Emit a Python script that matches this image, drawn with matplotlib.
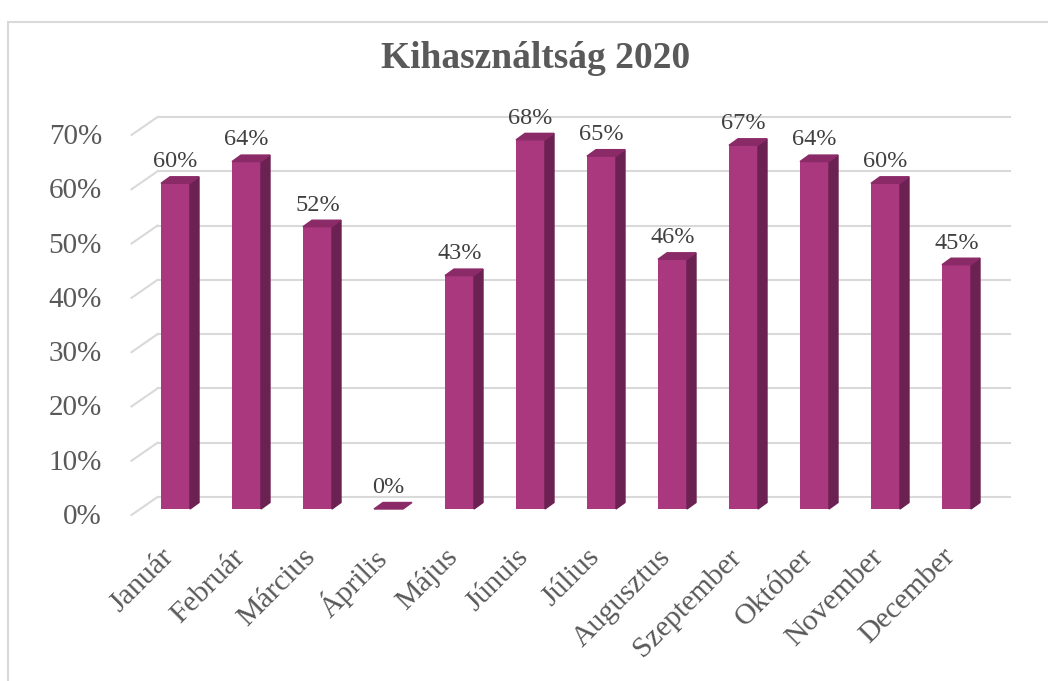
import matplotlib
matplotlib.use('Agg')
import matplotlib.pyplot as plt
from matplotlib.patches import Polygon, Rectangle
from matplotlib.transforms import ScaledTranslation

plt.rcParams['font.family'] = ['Liberation Serif', 'DejaVu Serif']

months = ['Január', 'Február', 'Március', 'Április', 'Május', 'Júnuis',
          'Július', 'Augusztus', 'Szeptember', 'Október', 'November', 'December']
usage = [0.60, 0.64, 0.52, 0.00, 0.43, 0.68, 0.65, 0.46, 0.67, 0.64, 0.60, 0.45]
yticks = [0.0, 0.1, 0.2, 0.3, 0.4, 0.5, 0.6, 0.7]

FRONT = '#A9387F'
SIDE = '#6B2152'
TOP = '#8A2A67'
GRID = '#D9D9D9'
TXT = '#595959'

W, H, DPI = 1048, 681, 100
fig = plt.figure(figsize=(W / DPI, H / DPI), dpi=DPI)
ax = fig.add_axes([140 / W, (H - 509) / H, 852 / W, 380 / H])
ax.set_xlim(0, len(months))
ax.set_ylim(0, 0.7)
ax.axis('off')

# pixel -> data unit helpers (fake 3d depth)
px_x = len(months) / 852
px_y = 0.7 / 380


def shift(dx, dy):
    return ax.transData + ScaledTranslation(dx / DPI, dy / DPI, fig.dpi_scale_trans)


# back wall gridlines + left diagonal
for v in yticks:
    ax.plot([0, len(months)], [v, v], color=GRID, lw=1.5,
            transform=shift(17.5, 12), clip_on=False, zorder=1)
    ax.plot([-8.5 * px_x, 17.5 * px_x], [v - 6 * px_y, v + 12 * px_y],
            color=GRID, lw=1.5, clip_on=False, zorder=1)
    ax.text(0, v, f'{v:.0%}', ha='right', va='center', fontsize=21, color=TXT,
            transform=shift(-38, -8), clip_on=False)

bw = 29 * px_x
ddx, ddy = 9 * px_x, 6.5 * px_y
for i, (m, v) in enumerate(zip(months, usage)):
    x0 = i + 0.5 - bw / 2
    x1 = x0 + bw
    if v > 0:
        ax.bar(i + 0.5, v, width=bw, color=FRONT, zorder=3)
        ax.add_patch(Polygon([(x1, 0), (x1 + ddx, ddy), (x1 + ddx, v + ddy), (x1, v)],
                             closed=True, color=SIDE, zorder=3, clip_on=False))
    ax.add_patch(Polygon([(x0, v), (x0 + ddx, v + ddy), (x1 + ddx, v + ddy), (x1, v)],
                         closed=True, color=TOP, zorder=3, clip_on=False))
    ax.annotate(f'{v:.0%}', (i + 0.5, v), xytext=(0, 8), textcoords='offset points',
                ha='center', va='bottom', fontsize=17.5, color='#404040', zorder=4)
    ax.text(i + 0.5, 0, m, rotation=45, rotation_mode='anchor', ha='right', va='center',
            fontsize=21.5, color=TXT, transform=shift(-6, -44), clip_on=False)

fig.text(536 / W, 1 - 58 / H, 'Kihasználtság 2020', ha='center', va='center',
         fontsize=27, fontweight='bold', color=TXT)

fig.add_artist(Rectangle((8 / W, -0.05), 1.2, 1 - 22 / H + 0.05, transform=fig.transFigure,
                         fill=False, edgecolor=GRID, lw=1.5))

fig.savefig('out.png', dpi=DPI)
